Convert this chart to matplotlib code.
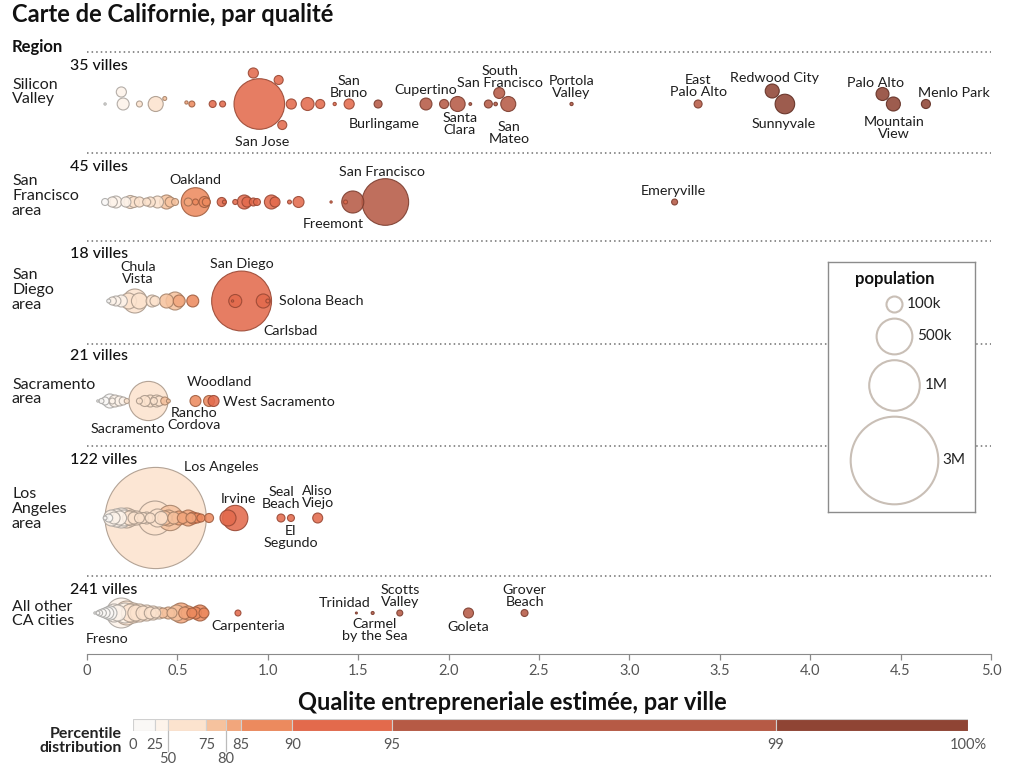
"""bubble map of California cities by estimated entrepreneurial quality"""

import numpy as np
import matplotlib as mpl
mpl.use('Agg')
import matplotlib.pyplot as plt
from matplotlib.colors import to_rgb

plt.rcParams['font.family'] = ['Lato', 'DejaVu Sans']

W, H, DPI = 1024, 768, 100

# ---------------- data ----------------
regions = ['Silicon\nValley', 'San\nFrancisco\narea', 'San\nDiego\narea',
           'Sacramento\narea', 'Los\nAngeles\narea', 'All other\nCA cities']
n_villes = [35, 45, 18, 21, 122, 241]

# quality index (x axis) and population (thousands); '' = no label
sv_qual = [0.10, 0.19, 0.20, 0.29, 0.38, 0.43, 0.55, 0.58, 0.695, 0.75, 0.953, 0.92, 1.06, 1.08,
           1.13, 1.22, 1.29, 1.37, 1.45, 1.61, 1.875, 1.975, 2.05, 2.12, 2.22, 2.28, 2.26, 2.33,
           2.68, 3.38, 3.79, 3.86, 4.40, 4.46, 4.64]
sv_pop = [2, 40, 56, 14, 88, 6, 4, 14, 19, 14, 1000, 40, 32, 32,
          40, 66, 32, 4, 40, 25, 56, 32, 88, 3, 25, 47, 5, 88,
          4, 25, 77, 150, 66, 77, 32]
sv_names = ['', '', '', '', '', '', '', '', '', '', 'San Jose', '', '', '',
            '', '', '', '', 'San Bruno', 'Burlingame', 'Cupertino', '', 'Santa Clara', '', '',
            'South San Francisco', '', 'San Mateo',
            'Portola Valley', 'East Palo Alto', 'Redwood City', 'Sunnyvale', 'Palo Alto',
            'Mountain View', 'Menlo Park']

sf_qual = [0.10, 0.14, 0.16, 0.215, 0.24, 0.26, 0.29, 0.33, 0.35, 0.39, 0.44, 0.46, 0.487,
           0.56, 0.60, 0.60, 0.65, 0.66, 0.745, 0.76, 0.82, 0.87, 0.885, 0.92, 0.94, 1.02,
           1.04, 1.12, 1.17, 1.35, 1.43, 1.47, 1.65, 3.25]
sf_pop = [19, 40, 56, 40, 66, 47, 40, 25, 40, 56, 77, 40, 19,
          25, 320, 14, 47, 25, 32, 6, 10, 77, 40, 25, 19, 77,
          39, 6, 47, 2, 6, 190, 850, 14]
sf_names = ['', '', '', '', '', '', '', '', '', '', '', '', '',
            '', 'Oakland', '', '', '', '', '', '', '', '', '', '', '',
            '', '', '', '', '', 'Freemont', 'San Francisco', 'Emeryville']

sd_qual = [0.12, 0.14, 0.16, 0.19, 0.23, 0.265, 0.29, 0.36, 0.376, 0.44, 0.487, 0.51, 0.585,
           0.855, 0.805, 0.82, 0.975, 1.0]
sd_pop = [6, 25, 39, 56, 100, 225, 100, 56, 39, 77, 127, 56, 56,
          1400, 2, 66, 77, 6]
sd_names = ['', '', '', '', '', 'Chula Vista', '', '', '', '', '', '', '',
            'San Diego', '', '', 'Carlsbad', 'Solona Beach']

sac_qual = [0.06, 0.08, 0.10, 0.127, 0.14, 0.155, 0.18, 0.20, 0.22, 0.29, 0.32, 0.34, 0.35,
            0.37, 0.385, 0.40, 0.43, 0.45, 0.60, 0.675, 0.70]
sac_pop = [2, 10, 25, 77, 14, 56, 39, 25, 10, 14, 47, 600, 56,
           19, 56, 39, 25, 6, 47, 47, 47]
sac_names = ['', '', '', '', '', '', '', '', '', '', '', 'Sacramento', '',
             '', '', '', '', '', 'Rancho Cordova', 'Woodland', 'West Sacramento']

la_qual = [0.10, 0.12, 0.136, 0.15, 0.164, 0.18, 0.19, 0.205, 0.22, 0.235, 0.247, 0.26, 0.275,
           0.29, 0.31, 0.33, 0.35, 0.376, 0.38, 0.39, 0.41, 0.43, 0.45, 0.46, 0.48, 0.51,
           0.53, 0.56, 0.575, 0.587, 0.61, 0.63, 0.675, 0.78, 0.82, 1.073, 1.128, 1.276]
la_pop = [6, 25, 100, 56, 127, 77, 156, 100, 156, 77, 100, 56, 77,
          39, 47, 56, 39, 450, 4000, 127, 66, 77, 100, 250, 56, 77,
          47, 100, 39, 56, 39, 25, 32, 100, 250, 25, 19, 39]
la_names = ['', '', '', '', '', '', '', '', '', '', '', '', '',
            '', '', '', '', '', 'Los Angeles', '', '', '', '', '', '', '',
            '', '', '', '', '', '', '', '', 'Irvine', 'Seal Beach', 'El Segundo', 'Aliso Viejo']

ot_qual = [0.044, 0.06, 0.07, 0.085, 0.10, 0.115, 0.127, 0.15, 0.17, 0.19, 0.21, 0.22, 0.24,
           0.255, 0.27, 0.29, 0.31, 0.33, 0.35, 0.366, 0.38, 0.40, 0.42, 0.45, 0.47, 0.496,
           0.52, 0.54, 0.56, 0.58, 0.60, 0.625, 0.647, 0.835, 1.49, 1.58, 1.73, 2.11, 2.42]
ot_pop = [2, 6, 14, 25, 39, 56, 77, 127, 100, 350, 156, 225, 127,
          156, 100, 127, 77, 100, 56, 77, 39, 56, 39, 56, 39, 100,
          156, 56, 77, 39, 56, 100, 39, 14, 1.5, 3.5, 14, 39, 19]
ot_names = ['', '', '', '', '', '', '', '', '', 'Fresno', '', '', '',
            '', '', '', '', '', '', '', '', '', '', '', '', '',
            '', '', '', '', '', '', '', 'Carpenteria', 'Trinidad', 'Carmel by the Sea',
            'Scotts Valley', 'Goleta', 'Grover Beach']

# percentile distribution of the quality index
pct_ticks = [0, 25, 50, 75, 80, 85, 90, 95, 99, 100]
pct_quality = [0, 0.13, 0.22, 0.42, 0.50, 0.58, 0.68, 1.465, 3.65, 5.0]
pct_bar = [0, 2.6, 4.2, 8.8, 11.1, 12.9, 19.1, 31.0, 77.0, 100]

legend_pop = [100, 500, 1000, 3000]
legend_lbl = ['100k', '500k', '1M', '3M']

# ---------------- style / layout ----------------
band_colors = ['#FAF8F6', '#FDF3EA', '#FCE3CE', '#F6C29E', '#F2A67C', '#EC8A5E',
               '#E36A4C', '#B65A45', '#8F4434']
row_y = [104, 202, 301, 401, 518, 613]
sep_y = [52, 153, 241, 344, 446, 576]
count_y = [66, 167, 254, 356, 460, 590]
region_y = [92, 196, 290, 392, 509, 614]

label_text = {'South San Francisco': 'South\nSan Francisco', 'San Bruno': 'San\nBruno',
              'Santa Clara': 'Santa\nClara', 'San Mateo': 'San\nMateo',
              'Portola Valley': 'Portola\nValley', 'East Palo Alto': 'East\nPalo Alto',
              'Mountain View': 'Mountain\nView', 'Chula Vista': 'Chula\nVista',
              'Rancho Cordova': 'Rancho\nCordova', 'Seal Beach': 'Seal\nBeach',
              'Aliso Viejo': 'Aliso\nViejo', 'El Segundo': 'El\nSegundo',
              'Carmel by the Sea': 'Carmel\nby the Sea', 'Scotts Valley': 'Scotts\nValley',
              'Grover Beach': 'Grover\nBeach'}
# label offset from bubble centre in pixels (dx, dy downwards, ha)
label_off = {'San Jose': (3, 38, 'center'), 'San Bruno': (0, -17, 'center'),
             'Burlingame': (6, 20, 'center'), 'Cupertino': (0, -14, 'center'),
             'Santa Clara': (2, 20, 'center'), 'South San Francisco': (1, -16, 'center'),
             'San Mateo': (1, 29, 'center'), 'Portola Valley': (0, -17, 'center'),
             'East Palo Alto': (0, -18, 'center'), 'Redwood City': (2, -13, 'center'),
             'Sunnyvale': (-1, 20, 'center'), 'Palo Alto': (-7, -11, 'center'),
             'Mountain View': (1, 24, 'center'), 'Menlo Park': (28, -11, 'center'),
             'Oakland': (0, -22, 'center'), 'San Francisco': (-3, -30, 'center'),
             'Freemont': (-19, 22, 'center'), 'Emeryville': (-1, -11, 'center'),
             'Chula Vista': (3, -28, 'center'), 'San Diego': (0, -37, 'center'),
             'Solona Beach': (11, 0, 'left'), 'Carlsbad': (27, 30, 'center'),
             'Sacramento': (-21, 28, 'center'), 'Rancho Cordova': (-1, 18, 'center'),
             'Woodland': (10, -19, 'center'), 'West Sacramento': (9, 1, 'left'),
             'Los Angeles': (66, -51, 'center'), 'Irvine': (3, -19, 'center'),
             'Seal Beach': (0, -20, 'center'), 'Aliso Viejo': (0, -21, 'center'),
             'El Segundo': (0, 19, 'center'), 'Fresno': (-14, 26, 'center'),
             'Carpenteria': (10, 13, 'center'), 'Trinidad': (-12, -10, 'center'),
             'Carmel by the Sea': (2, 17, 'center'), 'Scotts Valley': (0, -17, 'center'),
             'Goleta': (0, 14, 'center'), 'Grover Beach': (0, -17, 'center')}


def radius_px(pop):
    return 8 * np.sqrt(np.asarray(pop, float) / 100)


def marker_area(r):
    return (2 * r * 72 / DPI) ** 2


def swarm(xp, r):
    """push overlapping bubbles up/down, biggest first"""
    ys = np.zeros(len(xp))
    placed = []
    for i in np.argsort(-r):
        for d in np.arange(0, 80, 0.5):
            hit = None
            for cand in (-d, d):
                if all(np.hypot(xp[i] - xp[j], cand - ys[j]) >= r[i] + r[j] + 1 for j in placed):
                    hit = cand
                    break
            if hit is not None:
                ys[i] = hit
                break
        placed.append(i)
    return ys


def ftext(x, y, s, **kw):
    fig.text(x / W, 1 - y / H, s, **kw)


fig = plt.figure(figsize=(W / DPI, H / DPI), dpi=DPI)
ax = fig.add_axes([87 / W, 1 - 654 / H, 904 / W, 614 / H])
ax.set_xlim(0, 5)
ax.set_ylim(654, 40)
px_per_x = 904 / 5

rows = [(sv_names, sv_qual, sv_pop), (sf_names, sf_qual, sf_pop), (sd_names, sd_qual, sd_pop),
        (sac_names, sac_qual, sac_pop), (la_names, la_qual, la_pop), (ot_names, ot_qual, ot_pop)]

for y in sep_y:
    ax.axhline(y, color='#6f6f6f', lw=1.1, ls=(0, (1, 2)), zorder=0)

for k, (names, qual, pop) in enumerate(rows):
    q = np.array(qual)
    r = radius_px(pop)
    dy = swarm(q * px_per_x, r) if k == 0 else np.zeros(len(q))
    y = row_y[k] + dy
    band = np.searchsorted(pct_quality[1:-1], q, side='right')
    face = np.array([(*to_rgb(band_colors[b]), 0.87) for b in band])
    edge = np.array([(*(np.array(to_rgb(band_colors[b])) * 0.68), 0.9) for b in band])
    order = np.argsort(-r)
    ax.scatter(q[order], y[order], s=marker_area(r[order]), c=face[order],
               edgecolors=edge[order], linewidths=0.8, zorder=2, clip_on=False)
    for i, nm in enumerate(names):
        if not nm:
            continue
        dx, ddy, ha = label_off[nm]
        ax.annotate(label_text.get(nm, nm), xy=(q[i], y[i]), xytext=(dx, -ddy),
                    textcoords='offset pixels', ha=ha, va='center', fontsize=10.3,
                    linespacing=1.0, color='#1e1e1e', zorder=3)

    ftext(12, region_y[k], regions[k], ha='left', va='center', fontsize=11.5,
          linespacing=1.05, color='#1e1e1e')
    ftext(70, count_y[k], f'{n_villes[k]} villes', ha='left', va='center', fontsize=11.5,
          fontweight='medium', color='#111')

ticks = np.arange(0, 5.01, 0.5)
ax.set_xticks(ticks)
ax.set_xticklabels(['0'] + [f'{t:.1f}' for t in ticks[1:]])
ax.set_yticks([])
for s in ['top', 'left', 'right']:
    ax.spines[s].set_visible(False)
ax.spines['bottom'].set_color('#8a8a8a')
ax.tick_params(axis='x', length=4.5, width=0.9, color='#8a8a8a', pad=3,
               labelsize=10.5, labelcolor='#555')
ax.patch.set_alpha(0)

ftext(12, 14, 'Carte de Californie, par qualité', ha='left', va='center', fontsize=17,
      fontweight='bold', color='#111')
ftext(12, 47, 'Region', ha='left', va='center', fontsize=12, fontweight='bold', color='#111')

# population legend
lg = fig.add_axes([828 / W, 1 - 512 / H, 147 / W, 250 / H])
lg.set_xlim(0, 147)
lg.set_ylim(250, 0)
lg.set_xticks([])
lg.set_yticks([])
for s in lg.spines.values():
    s.set_color('#8c8c8c')
    s.set_linewidth(1)
lg.text(67, 17, 'population', ha='center', va='center', fontsize=12, fontweight='bold',
        color='#111')
top = 34
for p, lbl in zip(legend_pop, legend_lbl):
    r = radius_px(p)
    cy = top + r
    lg.scatter([66], [cy], s=marker_area(r), facecolors='white', edgecolors='#c9bfb6',
               linewidths=1.5, clip_on=False)
    lg.text(66 + r + 5, cy, lbl, ha='left', va='center', fontsize=11, color='#222')
    top = cy + r + 6

# percentile colour bar
ftext(512, 703, 'Qualite entrepreneriale estimée, par ville', ha='center', va='center',
      fontsize=17, fontweight='bold', color='#111')
cb = fig.add_axes([133 / W, 1 - 731 / H, 835 / W, 12 / H])
cb.barh(0.5, np.diff(pct_bar), left=pct_bar[:-1], height=1, color=band_colors,
        edgecolor='#d0d0d0', linewidth=0.8)
cb.set_xlim(0, 100)
cb.set_ylim(0, 1)
cb.axis('off')
ftext(122, 741, 'Percentile\ndistribution', ha='right', va='center', fontsize=11.5,
      fontweight='bold', linespacing=1.0, color='#222')
for pv, pos in zip(pct_ticks, pct_bar):
    xp = 133 + pos * 835 / 100
    lbl = '100%' if pv == 100 else str(pv)
    if pv in (50, 80):
        fig.add_artist(plt.Line2D([xp / W, xp / W], [1 - 731 / H, 1 - 751 / H],
                                  color='#bbbbbb', lw=0.9))
        ftext(xp, 759, lbl, ha='center', va='center', fontsize=10.5, color='#555')
    else:
        ftext(xp, 745, lbl, ha='center', va='center', fontsize=10.5, color='#555')

fig.savefig('out.png', dpi=DPI)
